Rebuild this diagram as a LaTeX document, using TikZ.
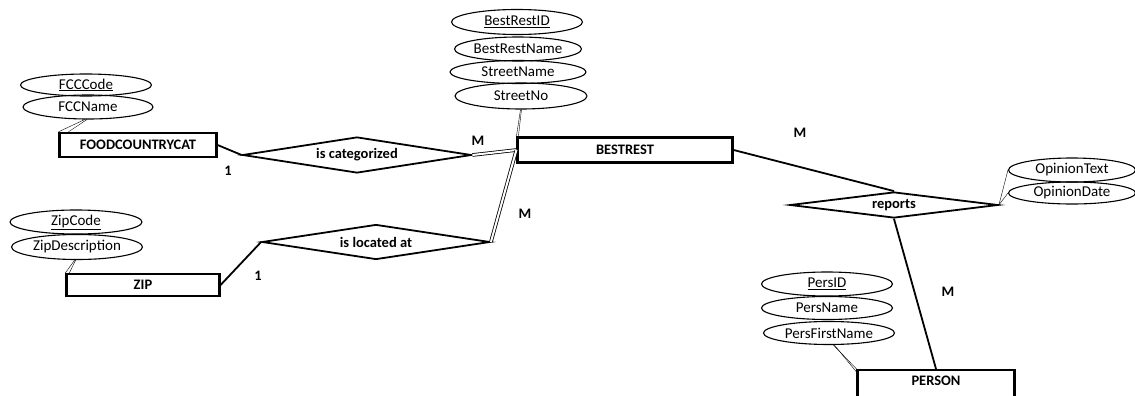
\documentclass[tikz,border=0pt]{standalone}
\usepackage{fontspec}
\setmainfont{Carlito}
\usetikzlibrary{shapes.geometric}

\begin{document}
\begin{tikzpicture}[x=1pt,y=-1pt,font=\fontsize{15}{17}\selectfont]

      \useasboundingbox (0,0) rectangle (1135,396);

      % Entities
      \begin{scope}[every node/.style={rectangle,draw,line width=2.2pt,font=\fontsize{14.5}{17}\selectfont\bfseries}]
        \node[minimum width=157,minimum height=24] (fcc) at (138,145) {FOODCOUNTRYCAT};
        \node[minimum width=153,minimum height=22] (zip) at (143,285) {ZIP};
        \node[minimum width=215,minimum height=25] (bestrest) at (625,150) {BESTREST};
        \node[minimum width=157,minimum height=32,text depth=10pt] (person) at (936,386) {PERSON};
      \end{scope}

      % Relationships
      \begin{scope}[every node/.style={diamond,draw,line width=1.8pt,aspect=6,inner sep=0pt,font=\fontsize{14.5}{17}\selectfont\bfseries}]
        \node[minimum width=229,minimum height=36] (iscat) at (357,155) {is categorized};
        \node[minimum width=228,minimum height=35] (isloc) at (376,242) {is located at};
        \node[minimum width=208,minimum height=26] (reports) at (894,205) {reports};
      \end{scope}

      % Attributes
      \begin{scope}[every node/.style={ellipse,draw,line width=1.1pt,inner sep=0pt}]
        \node[minimum width=131,minimum height=22] (fcccode) at (86,85) {\underline{FCCCode}};
        \node[minimum width=130,minimum height=24] (fccname) at (88,107) {FCCName};

        \node[minimum width=132,minimum height=24] (zipcode) at (76,222) {\underline{ZipCode}};
        \node[minimum width=131,minimum height=25] (zipdesc) at (77,247) {ZipDescription};

        \node[minimum width=131,minimum height=25] (brid) at (517,22) {\underline{BestRestID}};
        \node[minimum width=127,minimum height=24] (brname) at (518,49) {BestRestName};
        \node[minimum width=136,minimum height=23] (stname) at (518,72) {StreetName};
        \node[minimum width=132,minimum height=26] (stno) at (521,96) {StreetNo};

        \node[minimum width=127,minimum height=24] (optext) at (1072,170) {OpinionText};
        \node[minimum width=127,minimum height=22] (opdate) at (1072,193) {OpinionDate};

        \node[minimum width=131,minimum height=24] (persid) at (827,284) {\underline{PersID}};
        \node[minimum width=131,minimum height=23] (persname) at (827,308) {PersName};
        \node[minimum width=131,minimum height=23] (persfirst) at (829,333) {PersFirstName};
      \end{scope}

      % Cardinalities
      \begin{scope}[every node/.style={font=\fontsize{14.5}{17}\selectfont\bfseries}]
        \node (c1) at (228,171) {1};
        \node (c2) at (258,276) {1};
        \node (c3) at (478,141) {M};
        \node (c4) at (525,214) {M};
        \node (c5) at (800,133) {M};
        \node (c6) at (948,292) {M};
      \end{scope}

      % Edges
      \begin{scope}[every edge/.style={draw,line width=1.8pt}]
        \path (fcc.east) edge (iscat.west);
        \path (zip.east) edge (isloc.west);
        \path (bestrest.east) edge (reports.north);
        \path (reports.south) edge (person.north);
      \end{scope}

      \begin{scope}[every edge/.style={draw,double,double distance=2pt,line width=0.8pt}]
        \path (iscat.east) edge (bestrest.west);
        \path (isloc.east) edge (bestrest.west);
      \end{scope}

      \begin{scope}[every edge/.style={draw,thin}]
        \path (fccname.255) edge (fcc.north west);
        \path (fccname.265) edge ([xshift=10pt]fcc.north west);
        \path (zipdesc.260) edge (zip.north west);
        \path (zipdesc.264) edge ([xshift=4pt]zip.north west);
        \path (stno.268) edge (bestrest.north west);
        \path (stno.272) edge ([xshift=2pt]bestrest.north west);
        \path (reports.east) edge (optext.west);
        \path (reports.east) edge (opdate.west);
        \path (persfirst.290) edge (person.north west);
        \path (persfirst.294) edge ([yshift=-3pt]person.north west);
      \end{scope}

    \end{tikzpicture}
\end{document}
